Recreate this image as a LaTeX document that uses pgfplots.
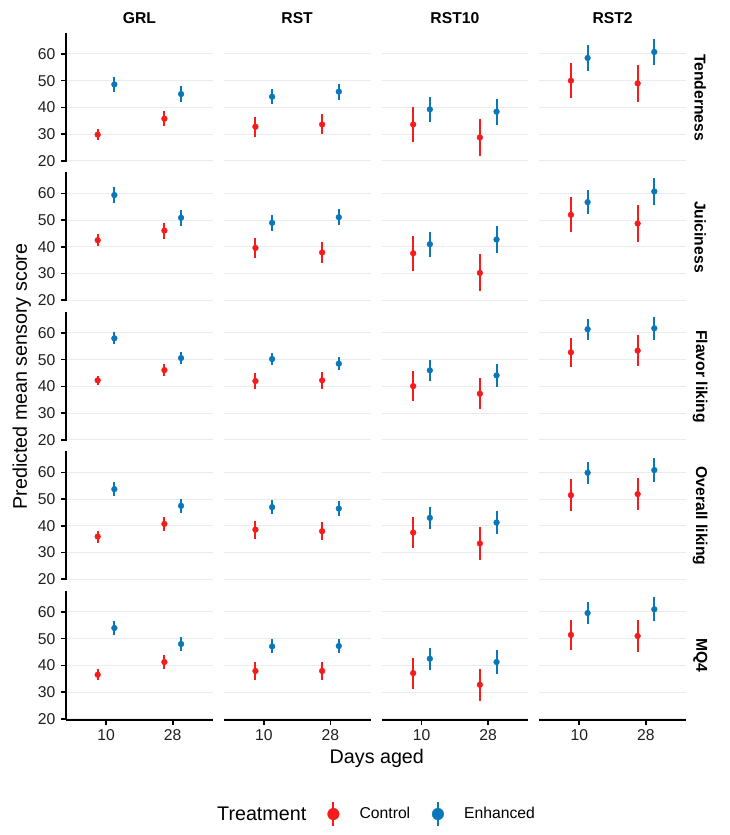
\documentclass[border=0pt]{standalone}
\usepackage{pgfplots}
\pgfplotsset{compat=1.18}
\usepgfplotslibrary{groupplots}
\usepackage{fontspec}
\setmainfont{Liberation Sans}
\definecolor{cred}{HTML}{F71B1B}
\definecolor{cblue}{HTML}{0A77B8}
\definecolor{cgrid}{HTML}{EBEBEB}
\newcommand{\smallfont}{\fontsize{15.7}{18}\selectfont}
\newcommand{\bigfont}{\fontsize{19.7}{23}\selectfont}
\pgfplotsset{
  ctrl/.style={only marks, mark=*, mark size=2.9pt, color=cred,
    error bars/y dir=both, error bars/y explicit, error bars/error mark=none,
    error bars/error bar style={line width=2pt, color=cred}},
  enh/.style={only marks, mark=*, mark size=2.9pt, color=cblue,
    error bars/y dir=both, error bars/y explicit, error bars/error mark=none,
    error bars/error bar style={line width=2pt, color=cblue}},
  innery/.style={y axis line style={draw=none}, ytick style={draw=none}, yticklabels={}},
  innerx/.style={x axis line style={draw=none}, xtick style={draw=none}, xticklabels={}},
  strip/.style={extra description/.code={\node[rotate=-90, font=\bfseries\smallfont, anchor=center, inner sep=0pt] at (1.097,0.5) {#1};}},
}
\begin{document}
\begin{tikzpicture}
\begin{groupplot}[
  group style={group size=4 by 5, horizontal sep=11pt, vertical sep=10.5pt},
  scale only axis, width=146.75pt, height=129pt,
  xmin=0.4, xmax=2.6, ymin=19.55, ymax=67.85,
  xtick={1,2}, xticklabels={10,28}, ytick={20,30,40,50,60},
  axis x line*=bottom, axis y line*=left,
  axis line style={-, line width=1.6pt, black},
  tick style={line width=1.6pt, black},
  tick align=outside, major tick length=4.9pt,
  ymajorgrids, grid style={cgrid, line width=1pt},
  tick label style={font=\smallfont, text=black!88},
  /pgf/number format/assume math mode=true,
  yticklabel style={inner sep=5.5pt},
  xticklabel style={inner sep=4.5pt},
  every axis title/.style={at={(0.5,1)}, anchor=base, yshift=9.6pt, font=\bfseries\smallfont},
]
% ---------------- Row 1: Tenderness
\nextgroupplot[title=GRL, innerx]
\addplot[ctrl] coordinates {(0.875,29.8) +- (0,2.1) (1.875,35.75) +- (0,2.9)};
\addplot[enh] coordinates {(1.125,48.6) +- (0,2.8) (2.125,45.0) +- (0,2.9)};
\nextgroupplot[title=RST, innerx, innery]
\addplot[ctrl] coordinates {(0.875,32.75) +- (0,3.7) (1.875,33.6) +- (0,3.75)};
\addplot[enh] coordinates {(1.125,44.0) +- (0,2.9) (2.125,45.9) +- (0,3.0)};
\nextgroupplot[title=RST10, innerx, innery]
\addplot[ctrl] coordinates {(0.875,33.6) +- (0,6.6) (1.875,28.75) +- (0,6.8)};
\addplot[enh] coordinates {(1.125,39.25) +- (0,4.6) (2.125,38.4) +- (0,4.9)};
\nextgroupplot[title=RST2, innerx, innery, strip=Tenderness]
\addplot[ctrl] coordinates {(0.875,50.0) +- (0,6.6) (1.875,49.0) +- (0,6.8)};
\addplot[enh] coordinates {(1.125,58.5) +- (0,4.7) (2.125,60.75) +- (0,4.9)};
% ---------------- Row 2: Juiciness
\nextgroupplot[innerx]
\addplot[ctrl] coordinates {(0.875,42.5) +- (0,2.25) (1.875,46.1) +- (0,3.0)};
\addplot[enh] coordinates {(1.125,59.4) +- (0,3.0) (2.125,50.9) +- (0,2.9)};
\nextgroupplot[innerx, innery]
\addplot[ctrl] coordinates {(0.875,39.6) +- (0,3.8) (1.875,37.9) +- (0,3.9)};
\addplot[enh] coordinates {(1.125,49.0) +- (0,2.9) (2.125,51.1) +- (0,2.9)};
\nextgroupplot[innerx, innery]
\addplot[ctrl] coordinates {(0.875,37.6) +- (0,6.6) (1.875,30.25) +- (0,6.9)};
\addplot[enh] coordinates {(1.125,41.0) +- (0,4.7) (2.125,42.75) +- (0,5.1)};
\nextgroupplot[innerx, innery, strip=Juiciness]
\addplot[ctrl] coordinates {(0.875,52.0) +- (0,6.6) (1.875,48.75) +- (0,6.9)};
\addplot[enh] coordinates {(1.125,56.75) +- (0,4.6) (2.125,60.75) +- (0,5.0)};
% ---------------- Row 3: Flavor liking
\nextgroupplot[innerx, ylabel={Predicted mean sensory score},
  every axis y label/.style={at={(-0.301,0.5)}, rotate=90, anchor=center, font=\bigfont, inner sep=0pt}]
\addplot[ctrl] coordinates {(0.875,42.25) +- (0,1.7) (1.875,46.1) +- (0,2.4)};
\addplot[enh] coordinates {(1.125,58.0) +- (0,2.25) (2.125,50.6) +- (0,2.4)};
\nextgroupplot[innerx, innery]
\addplot[ctrl] coordinates {(0.875,42.0) +- (0,3.1) (1.875,42.25) +- (0,3.1)};
\addplot[enh] coordinates {(1.125,50.25) +- (0,2.4) (2.125,48.5) +- (0,2.5)};
\nextgroupplot[innerx, innery]
\addplot[ctrl] coordinates {(0.875,40.1) +- (0,5.5) (1.875,37.25) +- (0,5.7)};
\addplot[enh] coordinates {(1.125,46.0) +- (0,3.9) (2.125,44.1) +- (0,4.2)};
\nextgroupplot[innerx, innery, strip=Flavor liking]
\addplot[ctrl] coordinates {(0.875,52.75) +- (0,5.5) (1.875,53.4) +- (0,5.75)};
\addplot[enh] coordinates {(1.125,61.4) +- (0,3.9) (2.125,61.75) +- (0,4.2)};
% ---------------- Row 4: Overall liking
\nextgroupplot[innerx]
\addplot[ctrl] coordinates {(0.875,36.0) +- (0,2.25) (1.875,40.75) +- (0,2.75)};
\addplot[enh] coordinates {(1.125,53.75) +- (0,2.5) (2.125,47.5) +- (0,2.7)};
\nextgroupplot[innerx, innery]
\addplot[ctrl] coordinates {(0.875,38.6) +- (0,3.4) (1.875,38.0) +- (0,3.4)};
\addplot[enh] coordinates {(1.125,47.0) +- (0,2.7) (2.125,46.5) +- (0,2.75)};
\nextgroupplot[innerx, innery]
\addplot[ctrl] coordinates {(0.875,37.5) +- (0,5.9) (1.875,33.4) +- (0,6.1)};
\addplot[enh] coordinates {(1.125,43.0) +- (0,4.2) (2.125,41.25) +- (0,4.4)};
\nextgroupplot[innerx, innery, strip=Overall liking]
\addplot[ctrl] coordinates {(0.875,51.5) +- (0,5.9) (1.875,51.9) +- (0,6.1)};
\addplot[enh] coordinates {(1.125,59.9) +- (0,4.2) (2.125,60.9) +- (0,4.5)};
% ---------------- Row 5: MQ4
\nextgroupplot[xlabel={Days aged},
  every axis x label/.style={at={(2.118,-0.341)}, anchor=base, font=\bigfont, inner sep=0pt},
  legend style={at={(1.765,-0.729)}, anchor=west, draw=none, fill=none, inner sep=0pt,
    font=\smallfont, legend columns=-1,
    /tikz/every odd column/.style={column sep=16pt},
    /tikz/every even column/.style={column sep=17.5pt}},
  legend cell align=left,
  extra description/.code={\node[anchor=base west, font=\bigfont, inner sep=0pt] at (1.029,-0.783) {Treatment};}]
\addplot[forget plot, ctrl] coordinates {(0.875,36.5) +- (0,2.0) (1.875,41.25) +- (0,2.6)};
\addplot[forget plot, enh] coordinates {(1.125,54.0) +- (0,2.6) (2.125,48.0) +- (0,2.7)};
\addlegendimage{legend image code/.code={\path (0pt,0pt) (16pt,0pt); \draw[cred, line width=2pt] (8pt,-12pt) -- (8pt,12pt); \fill[cred] (8pt,0pt) circle (5.8pt);}}
\addlegendentry{Control}
\addlegendimage{legend image code/.code={\path (0pt,0pt) (16pt,0pt); \draw[cblue, line width=2pt] (8pt,-12pt) -- (8pt,12pt); \fill[cblue] (8pt,0pt) circle (5.8pt);}}
\addlegendentry{Enhanced}
\nextgroupplot[innery]
\addplot[ctrl] coordinates {(0.875,37.9) +- (0,3.25) (1.875,37.9) +- (0,3.3)};
\addplot[enh] coordinates {(1.125,47.1) +- (0,2.6) (2.125,47.25) +- (0,2.7)};
\nextgroupplot[innery]
\addplot[ctrl] coordinates {(0.875,37.1) +- (0,5.8) (1.875,32.75) +- (0,6.0)};
\addplot[enh] coordinates {(1.125,42.5) +- (0,4.1) (2.125,41.25) +- (0,4.5)};
\nextgroupplot[innery, strip=MQ4]
\addplot[ctrl] coordinates {(0.875,51.4) +- (0,5.75) (1.875,51.0) +- (0,6.0)};
\addplot[enh] coordinates {(1.125,59.6) +- (0,4.1) (2.125,61.0) +- (0,4.5)};
\end{groupplot}
\pgfresetboundingbox
\path[use as bounding box] ([xshift=-66pt,yshift=33pt]group c1r1.north west) rectangle ([xshift=663pt,yshift=-802pt]group c1r1.north west);
\end{tikzpicture}
\end{document}
